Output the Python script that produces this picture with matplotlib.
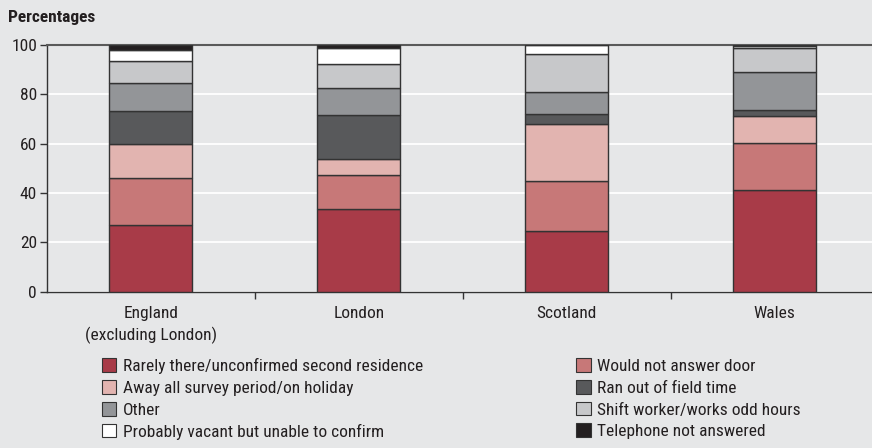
import numpy as np
import matplotlib.pyplot as plt
from matplotlib.font_manager import fontManager
from matplotlib.patches import Patch

# narrowest sans available
fonts = fontManager.ttflist
names = {f.name for f in fonts}
if "Roboto Condensed" in names:
    family, stretch, fs = "Roboto Condensed", "normal", 12.5
elif "Liberation Sans Narrow" in names:
    family, stretch, fs = "Liberation Sans Narrow", "normal", 12
elif any(f.name == "DejaVu Sans" and f.stretch == "condensed" for f in fonts):
    family, stretch, fs = "DejaVu Sans", "condensed", 11
else:
    family, stretch, fs = "Roboto", "normal", 11
plt.rcParams["font.family"] = [family, "DejaVu Sans"]
plt.rcParams["font.stretch"] = stretch

regions = ["England\n(excluding London)", "London", "Scotland", "Wales"]

reasons = [
    "Rarely there/unconfirmed second residence",
    "Would not answer door",
    "Away all survey period/on holiday",
    "Ran out of field time",
    "Other",
    "Shift worker/works odd hours",
    "Probably vacant but unable to confirm",
    "Telephone not answered",
]

# percentages per reason, one value per region
rarely_there = [27.0, 33.5, 24.6, 41.1]
no_answer_door = [19.2, 13.9, 20.3, 19.0]
away = [13.5, 6.4, 22.9, 11.1]
out_of_time = [13.5, 18.0, 4.1, 2.4]
other = [11.5, 10.9, 8.9, 15.5]
shift_worker = [8.7, 9.7, 15.4, 9.5]
vacant = [4.6, 6.2, 3.8, 1.0]
no_phone = [2.0, 1.4, 0.0, 0.4]

series = [rarely_there, no_answer_door, away, out_of_time,
          other, shift_worker, vacant, no_phone]
colors = ["#a83b48", "#c77878", "#e2b4b0", "#58595b",
          "#939598", "#c7c8ca", "#ffffff", "#231f20"]

bg = "#e6e7e8"
ink = "#231f20"
fig = plt.figure(figsize=(8.72, 4.48), dpi=100, facecolor=bg)
ax = fig.add_axes([0.0536, 0.349, 0.954, 0.5507], facecolor=bg)

x = np.arange(len(regions))
bottom = np.zeros(len(regions))
for vals, col in zip(series, colors):
    ax.bar(x, vals, 0.4, bottom=bottom, color=col, edgecolor="#333333",
           linewidth=1.0, zorder=3)
    bottom += np.array(vals)

ax.set_xlim(-0.5, 3.5)
ax.set_ylim(0, 100)
ax.set_yticks([0, 20, 40, 60, 80, 100])
ax.yaxis.grid(True, color="white", linewidth=1.3, zorder=0)
ax.set_axisbelow(True)

ax.set_xticks(x)
ax.set_xticklabels(regions, fontsize=fs, color=ink, linespacing=1.45)
ax.set_xticks([0.5, 1.5, 2.5], minor=True)
ax.tick_params(axis="x", which="major", length=0, pad=10)
ax.tick_params(axis="x", which="minor", length=5, width=1, color="#333333")
ax.tick_params(axis="y", length=5, width=1, color="#333333",
               labelsize=fs, labelcolor=ink, pad=2)

for side in ["left", "bottom"]:
    ax.spines[side].set_color("#333333")
    ax.spines[side].set_linewidth(1.0)
ax.spines["top"].set_color("#5a5a5a")
ax.spines["top"].set_linewidth(1.5)
ax.spines["right"].set_visible(False)

fig.text(0.009, 0.962, "Percentages", fontsize=fs, fontweight="bold",
         color=ink, va="center", ha="left")

# two-column key, filled row by row
handles = [Patch(facecolor=c, edgecolor="#333333", linewidth=0.8) for c in colors]
for idx, xpos in [([0, 2, 4, 6], 0.1166), ([1, 3, 5, 7], 0.6606)]:
    leg = fig.legend([handles[i] for i in idx], [reasons[i] for i in idx],
                     loc="upper left", bbox_to_anchor=(xpos, 0.201),
                     frameon=False, fontsize=fs, handlelength=0.85,
                     handleheight=0.85, handletextpad=0.35, labelspacing=0.34,
                     borderaxespad=0, borderpad=0)
    for t in leg.get_texts():
        t.set_color(ink)

fig.savefig("out.png", dpi=100, facecolor=bg)
